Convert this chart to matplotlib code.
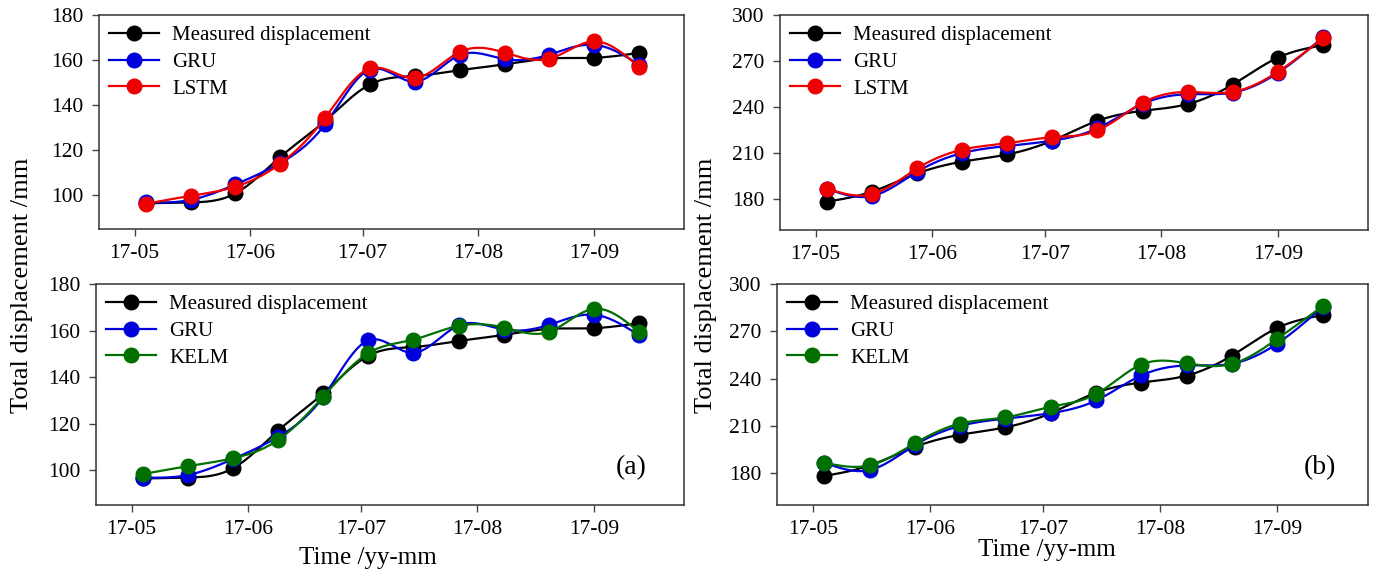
import numpy as np
import matplotlib
matplotlib.use("Agg")
import matplotlib.pyplot as plt
import matplotlib.dates as mdates
from datetime import datetime, timedelta

plt.rcParams['font.family'] = ['Liberation Serif', 'DejaVu Serif']

# Sampling dates (every 12 days)
start = datetime(2017, 5, 4)
dates = [start + timedelta(days=12 * i) for i in range(12)]

# (a) displacement /mm
measured_a = [96.4, 96.8, 100.8, 117.0, 133.0, 149.2, 152.9, 155.5, 158.1, 160.7, 161.0, 163.2]
gru_a = [96.8, 97.9, 104.8, 114.3, 131.5, 155.8, 150.4, 162.2, 160.4, 162.4, 166.8, 158.0]
lstm_a = [96.2, 99.7, 103.8, 114.0, 134.4, 156.3, 152.0, 163.6, 163.3, 160.6, 168.3, 156.9]
kelm_a = [98.3, 101.7, 105.1, 113.0, 131.6, 150.3, 156.1, 162.0, 161.3, 159.4, 169.3, 159.4]

# (b) displacement /mm
measured_b = [178.4, 185.0, 196.8, 204.5, 209.2, 218.2, 231.1, 237.6, 242.0, 254.7, 272.2, 280.3]
gru_b = [186.9, 182.1, 197.9, 210.1, 214.7, 218.2, 226.2, 242.1, 248.4, 249.5, 262.3, 285.5]
lstm_b = [187.0, 183.3, 200.1, 212.3, 216.5, 220.4, 224.8, 242.9, 249.9, 249.9, 263.0, 284.9]
kelm_b = [186.8, 185.1, 199.1, 211.6, 215.5, 222.2, 230.3, 249.0, 249.8, 249.4, 265.3, 285.9]

C_MEAS, C_GRU, C_LSTM, C_KELM = 'black', '#0000dd', '#ee0000', '#007000'


def spline_curve(x, y, n=20):
    """natural cubic spline through the points, for a smooth line"""
    x = np.asarray(x, float)
    y = np.asarray(y, float)
    k = len(x)
    h = np.diff(x)
    A = np.zeros((k, k))
    r = np.zeros(k)
    A[0, 0] = A[-1, -1] = 1
    for i in range(1, k - 1):
        A[i, i - 1] = h[i - 1]
        A[i, i] = 2 * (h[i - 1] + h[i])
        A[i, i + 1] = h[i]
        r[i] = 6 * ((y[i + 1] - y[i]) / h[i] - (y[i] - y[i - 1]) / h[i - 1])
    M = np.linalg.solve(A, r)
    xs, ys = [], []
    for i in range(k - 1):
        t = np.linspace(x[i], x[i + 1], n, endpoint=False)
        a = x[i + 1] - t
        b = t - x[i]
        s = (M[i] * a**3 + M[i + 1] * b**3) / (6 * h[i]) \
            + (y[i] / h[i] - M[i] * h[i] / 6) * a \
            + (y[i + 1] / h[i] - M[i + 1] * h[i] / 6) * b
        xs.append(t)
        ys.append(s)
    xs.append([x[-1]])
    ys.append([y[-1]])
    return np.concatenate(xs), np.concatenate(ys)


def draw_series(ax, y, color, label):
    xn = mdates.date2num(dates)
    xs, ys = spline_curve(xn, y)
    ax.plot(xs, ys, color=color, lw=1.6)
    ax.plot(xn, y, 'o', color=color, ms=10.5, lw=0)
    # legend handle: line plus marker
    ax.plot([], [], color=color, lw=1.6, marker='o', ms=10.5, label=label)


def style_axes(ax, ylim, yticks):
    ax.set_xlim(datetime(2017, 4, 21, 12), datetime(2017, 9, 25))
    ax.set_ylim(*ylim)
    ax.set_yticks(yticks)
    ax.xaxis.set_major_locator(mdates.MonthLocator(bymonth=[5, 6, 7, 8, 9]))
    ax.xaxis.set_major_formatter(mdates.DateFormatter('%y-%m'))
    ax.tick_params(direction='out', length=5, width=1, labelsize=15.5, pad=6, color='#444444')
    for s in ax.spines.values():
        s.set_linewidth(1.1)
        s.set_color('#333333')
    ax.legend(loc='upper left', frameon=False, fontsize=15, handlelength=2.4,
              handletextpad=0.6, labelspacing=0.35, borderaxespad=0.3,
              borderpad=0.2)


W, H = 1373, 575
fig = plt.figure(figsize=(W / 100, H / 100), dpi=100)


def add_ax(l, r, t, b):
    return fig.add_axes([l / W, 1 - b / H, (r - l) / W, (b - t) / H])


ax1 = add_ax(99, 684, 15, 229)
ax2 = add_ax(780, 1368, 15, 230)
ax3 = add_ax(96, 684, 284, 505)
ax4 = add_ax(777, 1368, 284, 505)

draw_series(ax1, measured_a, C_MEAS, 'Measured displacement')
draw_series(ax1, gru_a, C_GRU, 'GRU')
draw_series(ax1, lstm_a, C_LSTM, 'LSTM')
style_axes(ax1, (85, 180), [100, 120, 140, 160, 180])

draw_series(ax2, measured_b, C_MEAS, 'Measured displacement')
draw_series(ax2, gru_b, C_GRU, 'GRU')
draw_series(ax2, lstm_b, C_LSTM, 'LSTM')
style_axes(ax2, (160, 300), [180, 210, 240, 270, 300])

draw_series(ax3, measured_a, C_MEAS, 'Measured displacement')
draw_series(ax3, gru_a, C_GRU, 'GRU')
draw_series(ax3, kelm_a, C_KELM, 'KELM')
style_axes(ax3, (85, 180), [100, 120, 140, 160, 180])

draw_series(ax4, measured_b, C_MEAS, 'Measured displacement')
draw_series(ax4, gru_b, C_GRU, 'GRU')
draw_series(ax4, kelm_b, C_KELM, 'KELM')
style_axes(ax4, (160, 300), [180, 210, 240, 270, 300])

ax3.text(0.91, 0.167, '(a)', transform=ax3.transAxes, fontsize=20, ha='center', va='center')
ax4.text(0.918, 0.168, '(b)', transform=ax4.transAxes, fontsize=20, ha='center', va='center')

fig.text(22 / W, 1 - 285 / H, 'Total displacement /mm', rotation=90, fontsize=19,
         ha='center', va='center')
fig.text(706 / W, 1 - 285 / H, 'Total displacement /mm', rotation=90, fontsize=19,
         ha='center', va='center')
fig.text(368 / W, 1 - 558 / H, 'Time /yy-mm', fontsize=18, ha='center', va='center')
fig.text(1047 / W, 1 - 550 / H, 'Time /yy-mm', fontsize=18, ha='center', va='center')

fig.savefig('out.png', dpi=100)
